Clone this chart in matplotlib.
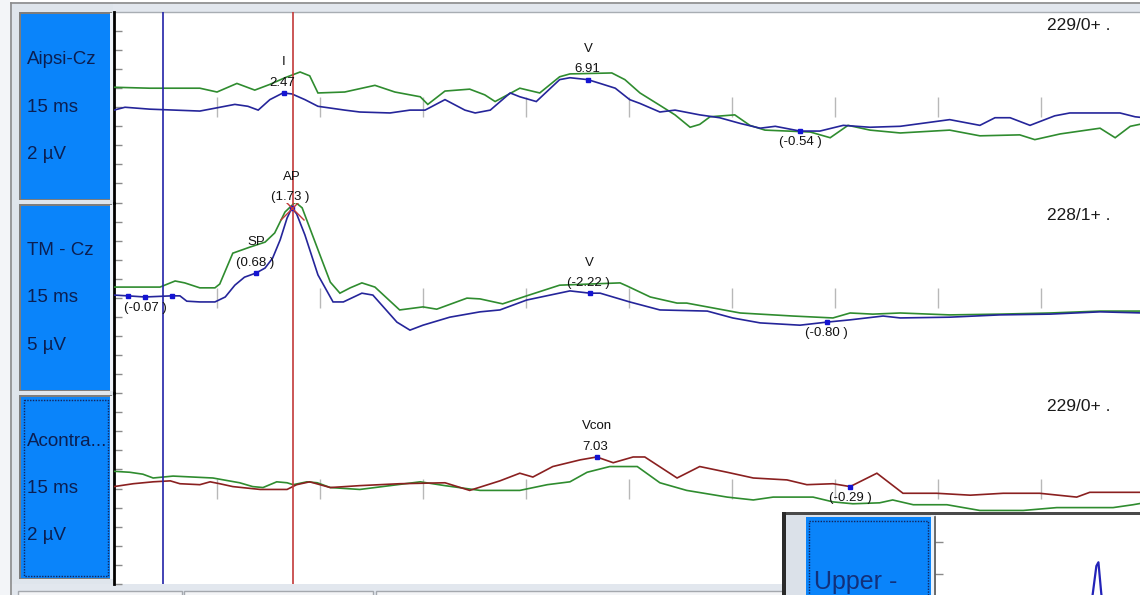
import numpy as np
import matplotlib
matplotlib.use("Agg")
import matplotlib.pyplot as plt
from matplotlib.patches import Rectangle

plt.rcParams['font.family'] = ['Liberation Sans', 'DejaVu Sans']

W, H = 1140, 595

# ---------------- channel set-up ----------------
channel_names = ["Aipsi-Cz", "TM - Cz", "Acontra..."]
channel_sweep = ["15 ms", "15 ms", "15 ms"]
channel_gain = ["2 µV", "5 µV", "2 µV"]
channel_counts = ["229/0+ .", "228/1+ .", "229/0+ ."]
channel_half_range = [1.0, 2.5, 1.0]      # µV from baseline to panel edge
channel_grid_step = [0.2, 0.5, 0.2]       # µV between left-axis ticks

sweep_ms = 15.0
time_tick_ms = 1.5
cursor_blue_ms = 0.71
cursor_red_ms = 2.60

# ---------------- traces (ms, µV) ----------------
aipsi_green_t = [0.0, 0.52, 1.25, 1.50, 1.79, 2.05, 2.27, 2.49, 2.71, 2.85, 2.97, 3.36, 3.80, 4.09, 4.46,
                 4.57, 4.82, 5.18, 5.40, 5.55, 5.91, 6.20, 6.49, 6.64, 7.25, 7.44, 7.66, 7.95, 8.17, 8.39,
                 8.53, 8.68, 9.04, 9.26, 9.48, 10.14, 10.43, 10.69, 11.01, 11.45, 12.17, 12.61, 13.19, 13.41,
                 13.78, 14.36, 14.58, 14.80, 15.0]
aipsi_green_v = [0.21, 0.20, 0.20, 0.16, 0.25, 0.18, 0.24, 0.31, 0.37, 0.33, 0.15, 0.16, 0.23, 0.16, 0.11,
                 0.03, 0.17, 0.19, 0.13, 0.06, 0.20, 0.15, 0.32, 0.35, 0.36, 0.29, 0.15, 0.02, -0.08, -0.21,
                 -0.18, -0.10, -0.08, -0.19, -0.24, -0.26, -0.32, -0.19, -0.24, -0.27, -0.24, -0.30, -0.29, -0.34,
                 -0.28, -0.22, -0.32, -0.20, -0.17]

aipsi_blue_t = [0.0, 0.16, 0.52, 1.25, 1.47, 1.76, 1.95, 2.10, 2.27, 2.46, 2.59, 2.78, 2.97, 3.36, 3.58,
                4.02, 4.31, 4.53, 4.82, 5.11, 5.26, 5.48, 5.77, 5.91, 6.15, 6.49, 6.64, 6.90, 7.08, 7.30,
                7.51, 7.66, 7.95, 8.17, 8.53, 8.82, 9.12, 9.41, 9.63, 9.99, 10.28, 10.62, 11.01, 11.45, 12.17,
                12.61, 12.83, 13.05, 13.34, 13.70, 13.92, 14.36, 14.65, 14.87, 15.0]
aipsi_blue_v = [-0.03, 0.0, -0.02, -0.04, -0.01, 0.03, 0.01, -0.03, 0.08, 0.15, 0.14, 0.08, 0.01, -0.03, -0.05,
                -0.06, -0.03, -0.03, 0.08, -0.03, -0.06, -0.03, 0.15, 0.11, 0.06, 0.29, 0.31, 0.29, 0.25, 0.20,
                0.08, 0.04, -0.05, -0.03, -0.08, -0.11, -0.17, -0.22, -0.20, -0.25, -0.25, -0.19, -0.21, -0.20, -0.13,
                -0.19, -0.11, -0.11, -0.19, -0.09, -0.06, -0.06, -0.06, -0.10, -0.11]

tm_green_t = [0.0, 0.67, 0.89, 1.03, 1.25, 1.47, 1.54, 1.73, 1.98, 2.20, 2.34, 2.49, 2.64, 2.74, 3.00,
              3.15, 3.29, 3.44, 3.61, 3.80, 4.16, 4.50, 4.70, 5.14, 5.33, 5.66, 6.01, 6.49, 7.37, 7.47,
              7.81, 8.20, 8.34, 8.64, 9.12, 9.89, 10.47, 10.72, 11.05, 11.45, 12.17, 12.90, 13.63, 14.36, 15.0]
tm_green_v = [0.28, 0.28, 0.44, 0.39, 0.26, 0.26, 0.36, 1.17, 1.33, 1.46, 1.70, 2.25, 2.51, 2.36, 1.12,
              0.41, 0.12, 0.26, 0.39, 0.28, -0.32, -0.24, -0.30, -0.01, -0.03, -0.16, 0.05, 0.33, 0.39, 0.31,
              0.02, -0.14, -0.14, -0.24, -0.40, -0.48, -0.53, -0.40, -0.43, -0.40, -0.45, -0.43, -0.40, -0.35, -0.35]

tm_blue_t = [0.0, 0.20, 0.45, 0.84, 0.96, 1.06, 1.25, 1.47, 1.62, 1.76, 1.90, 2.07, 2.20, 2.31, 2.42,
             2.52, 2.59, 2.66, 2.78, 2.97, 3.19, 3.34, 3.61, 3.77, 4.12, 4.31, 4.50, 4.89, 5.33, 5.62,
             6.01, 6.64, 6.93, 7.08, 7.51, 7.95, 8.64, 9.01, 9.41, 9.99, 10.38, 10.72, 11.20, 11.45, 12.17,
             12.90, 13.63, 14.36, 15.0]
tm_blue_v = [0.07, 0.05, 0.02, 0.05, 0.05, -0.09, -0.11, -0.11, 0.02, 0.33, 0.54, 0.65, 0.78, 1.04, 1.52,
             2.09, 2.36, 2.20, 1.65, 0.60, -0.11, -0.11, 0.12, 0.07, -0.64, -0.85, -0.72, -0.51, -0.37, -0.32,
             -0.06, 0.18, 0.12, 0.12, -0.11, -0.32, -0.35, -0.53, -0.66, -0.72, -0.64, -0.58, -0.48, -0.53, -0.51,
             -0.45, -0.43, -0.37, -0.40]

acontra_green_t = [0.0, 0.23, 0.42, 0.57, 0.86, 1.44, 1.83, 2.02, 2.17, 2.37, 2.52, 2.61, 2.81, 2.96, 3.15,
                   3.58, 4.02, 4.46, 4.82, 5.33, 5.91, 6.31, 6.64, 6.89, 7.22, 7.62, 7.95, 8.34, 8.93, 9.31,
                   9.60, 10.18, 10.47, 10.76, 11.15, 11.34, 11.64, 12.13, 12.61, 13.24, 13.73, 14.55, 14.84, 15.0]
acontra_green_v = [0.18, 0.17, 0.15, 0.11, 0.13, 0.11, 0.06, 0.02, 0.01, 0.07, 0.06, 0.04, 0.07, 0.06, 0.01,
                   -0.01, 0.03, 0.07, 0.03, -0.02, -0.02, 0.04, 0.07, 0.17, 0.23, 0.23, 0.06, -0.02, -0.09, -0.12,
                   -0.09, -0.09, -0.14, -0.16, -0.15, -0.12, -0.17, -0.17, -0.23, -0.23, -0.20, -0.20, -0.17, -0.15]

acontra_red_t = [0.0, 0.28, 0.57, 0.82, 0.96, 1.25, 1.40, 1.54, 1.73, 2.13, 2.52, 2.66, 2.85, 3.00, 3.15,
                 3.58, 4.16, 4.82, 5.18, 5.62, 5.91, 6.10, 6.39, 6.79, 7.03, 7.27, 7.56, 7.73, 8.20, 8.53,
                 8.93, 9.31, 9.80, 10.09, 10.47, 10.72, 11.11, 11.49, 11.98, 12.47, 12.95, 13.48, 14.02, 14.21, 15.0]
acontra_red_v = [0.02, 0.05, 0.07, 0.08, 0.05, 0.04, 0.07, 0.05, 0.02, -0.01, -0.01, 0.04, 0.07, 0.04, 0.01,
                 0.03, 0.05, 0.06, -0.02, 0.08, 0.16, 0.12, 0.23, 0.30, 0.33, 0.27, 0.33, 0.33, 0.11, 0.23,
                 0.17, 0.11, 0.09, 0.04, 0.05, 0.02, 0.16, -0.05, -0.05, -0.07, -0.05, -0.05, -0.09, -0.04, -0.04]

# ---------------- marked peaks ----------------
aipsi_peak_t = [2.47, 6.91, 9.99]
aipsi_peak_v = [0.15, 0.29, -0.25]
aipsi_peak_name = ["I", "V", ""]
aipsi_peak_text = ["2.47", "6.91", "(-0.54 )"]

tm_peak_t = [0.45, 2.07, 2.59, 6.93, 10.38]
tm_peak_v = [0.02, 0.65, 2.36, 0.12, -0.64]
tm_peak_name = ["", "SP", "AP", "V", ""]
tm_peak_text = ["(-0.07 )", "(0.68 )", "(1.73 )", "(-2.22 )", "(-0.80 )"]
tm_base_t = [0.20, 0.84]
tm_base_v = [0.05, 0.05]
tm_selected_t = 2.59          # peak picked by the red cursor
tm_selected_v = 2.36

acontra_peak_t = [7.03, 10.72]
acontra_peak_v = [0.33, 0.02]
acontra_peak_name = ["Vcon", ""]
acontra_peak_text = ["7.03", "(-0.29 )"]

upper_t = [2.20, 2.30, 2.35, 2.38, 2.42, 2.50]
upper_v = [-0.6, 0.2, 0.62, 0.68, 0.2, -0.6]

# ---------------- colours ----------------
GREEN = '#2f8c2f'
NAVY = '#25259a'
MAROON = '#8a2020'
PANEL = '#0a84fa'
PANEL_TEXT = '#0b1f52'
MARK = '#1414d2'
CURSOR_RED = '#c23a3a'

traces = [
    [(aipsi_green_t, aipsi_green_v, GREEN), (aipsi_blue_t, aipsi_blue_v, NAVY)],
    [(tm_green_t, tm_green_v, GREEN), (tm_blue_t, tm_blue_v, NAVY)],
    [(acontra_green_t, acontra_green_v, GREEN), (acontra_red_t, acontra_red_v, MAROON)],
]
peaks = [
    (aipsi_peak_t, aipsi_peak_v, aipsi_peak_name, aipsi_peak_text),
    (tm_peak_t, tm_peak_v, tm_peak_name, tm_peak_text),
    (acontra_peak_t, acontra_peak_v, acontra_peak_name, acontra_peak_text),
]


def frac(x0, y0, x1, y1):
    """pixel box (top-left origin) -> figure fraction rect"""
    return [x0 / W, 1 - y1 / H, (x1 - x0) / W, (y1 - y0) / H]


fig = plt.figure(figsize=(W / 100, H / 100), dpi=100, facecolor='white')

# ---------------- window chrome ----------------
bg = fig.add_axes([0, 0, 1, 1], zorder=0)
bg.set_xlim(0, W)
bg.set_ylim(H, 0)
bg.axis('off')


def box(ax, x, y, w, h, **kw):
    kw.setdefault('lw', 0)
    ax.add_patch(Rectangle((x, y), w, h, **kw))


box(bg, 0, 0, W, H, fc='white')
box(bg, 0, 0, 10, H, fc='#f3f5f8')
box(bg, 10, 2, W - 10, 10, fc='#e2e7ee')
box(bg, 10, 2, 103, H - 2, fc='#dfe5ec')
box(bg, 10, 584, W - 10, 11, fc='#e2e7ee')
bg.plot([10.5, 10.5], [2.5, H], color='#8c8c8c', lw=1.2)
bg.plot([10.5, W], [2.5, 2.5], color='#8c8c8c', lw=1.2)
bg.plot([113, W], [11.5, 11.5], color='#a8adb3', lw=1.0)
for x0, x1 in [(18, 182), (184, 373), (376, 900)]:
    box(bg, x0, 590.5, x1 - x0, 10, fc='#f4f5f7', ec='#a4a8ae', lw=1)

panel_rows = [(14, 199), (206, 390), (397, 578)]
for i, (top, bot) in enumerate(panel_rows):
    box(bg, 19, top - 2, 93, bot - top + 3, fc='#7d7d7d')
    box(bg, 110, top - 1, 3, bot - top + 2, fc='#eef3f9')
    box(bg, 21, top, 89, bot - top, fc=PANEL)
    if i == 2:
        box(bg, 24, top + 2.5, 84, bot - top - 5, fc='none', ec='#13245a', lw=1, ls=(0, (1, 1)))

# ---------------- channel plots ----------------
row_edges = [12, 202.5, 393, 584]
for i in range(3):
    top, bot = row_edges[i], row_edges[i + 1]
    ax = fig.add_axes(frac(114, top, 1144, bot), zorder=2)
    ax.set_facecolor('none')
    half = channel_half_range[i]
    ax.set_xlim(0, sweep_ms)
    ax.set_ylim(-half, half)

    for s in ['top', 'right']:
        ax.spines[s].set_visible(False)
    ax.spines['left'].set_color('black')
    ax.spines['left'].set_linewidth(2)
    ax.spines['bottom'].set_position(('data', 0))
    ax.spines['bottom'].set_color('none')

    ax.set_yticks(np.arange(-half, half - 1e-9, channel_grid_step[i]))
    ax.tick_params(axis='y', direction='in', length=5.5, width=1, color='#8a8a8a', labelleft=False)
    ax.set_xticks(np.arange(time_tick_ms, sweep_ms - 1e-9, time_tick_ms))
    ax.tick_params(axis='x', direction='inout', length=15, width=1, color='#b8b8b8', labelbottom=False)

    for t, v, c in traces[i]:
        ax.plot(t, v, color=c, lw=1.2, solid_joinstyle='miter', zorder=3)

    ax.axvline(cursor_blue_ms, color='#2323a8', lw=1.2, zorder=4)
    ax.axvline(cursor_red_ms, color=CURSOR_RED, lw=1.2, zorder=4)

    pt, pv, pname, ptext = peaks[i]
    ax.plot(pt, pv, 's', color=MARK, ms=3.2, zorder=5)
    for t, v, nm, tx in zip(pt, pv, pname, ptext):
        if nm:
            ax.annotate(nm, (t, v), xytext=(0, 22), textcoords='offset points',
                        ha='center', va='center', fontsize=9.5, color='#111111', zorder=6)
            ax.annotate(tx, (t, v), xytext=(-1, 7.5), textcoords='offset points',
                        ha='center', va='center', fontsize=9.5, color='#111111', zorder=6)
        else:
            ax.annotate(tx, (t, v), xytext=(0, -8), textcoords='offset points',
                        ha='center', va='center', fontsize=9.5, color='#111111', zorder=6)
    if i == 1:
        ax.plot(tm_base_t, tm_base_v, 's', color=MARK, ms=3.2, zorder=5)
        ax.plot([tm_selected_t], [tm_selected_v], 'x', color=CURSOR_RED, ms=17, mew=1.0, zorder=5)

    ax.text(0.906, 1 - 13.5 / (bot - top), channel_counts[i], transform=ax.transAxes,
            ha='left', va='center', fontsize=12.5, color='#1a1a1a')

    # label panel text
    mid = (top + bot) / 2
    for dy, s in zip([-47.5, 0, 47.5], [channel_names[i], channel_sweep[i], channel_gain[i]]):
        bg.text(27, mid + dy, s, ha='left', va='center', fontsize=13.5, color=PANEL_TEXT)

# ---------------- overlapping lower window ----------------
ov = fig.add_axes([0, 0, 1, 1], zorder=8)
ov.set_xlim(0, W)
ov.set_ylim(H, 0)
ov.axis('off')
ov.set_facecolor('none')
box(ov, 782, 512, W - 782, H - 512, fc='white')
box(ov, 782, 512, W - 782, 3, fc='#4a4a4a')
box(ov, 782, 512, 4, H - 512, fc='#2a2a2a')
box(ov, 786, 515, 150, H - 515, fc='#dbe1e9')
box(ov, 806, 517, 125, H - 517, fc=PANEL)
box(ov, 809, 520.5, 119, 80, fc='none', ec='#13245a', lw=1, ls=(0, (1, 1)))
box(ov, 931, 515, 4, H - 515, fc='#e9f2fb')
ov.text(814, 589, "Upper -", ha='left', va='baseline', fontsize=18, color='#12307a')

ua = fig.add_axes(frac(935, 517, 1965, 693), zorder=9)
ua.set_facecolor('none')
ua.set_xlim(0, sweep_ms)
ua.set_ylim(-1.4, 1.4)
for s in ['top', 'right', 'bottom']:
    ua.spines[s].set_visible(False)
ua.spines['left'].set_color('#555555')
ua.spines['left'].set_linewidth(1.2)
ua.set_yticks([0.5, 1.0])
ua.tick_params(axis='y', direction='in', length=5.5, width=1, color='#8a8a8a', labelleft=False)
ua.set_xticks([])
ua.plot(upper_t, upper_v, color='#2323b8', lw=1.6)

fig.savefig('out.png', dpi=100, facecolor='white')
